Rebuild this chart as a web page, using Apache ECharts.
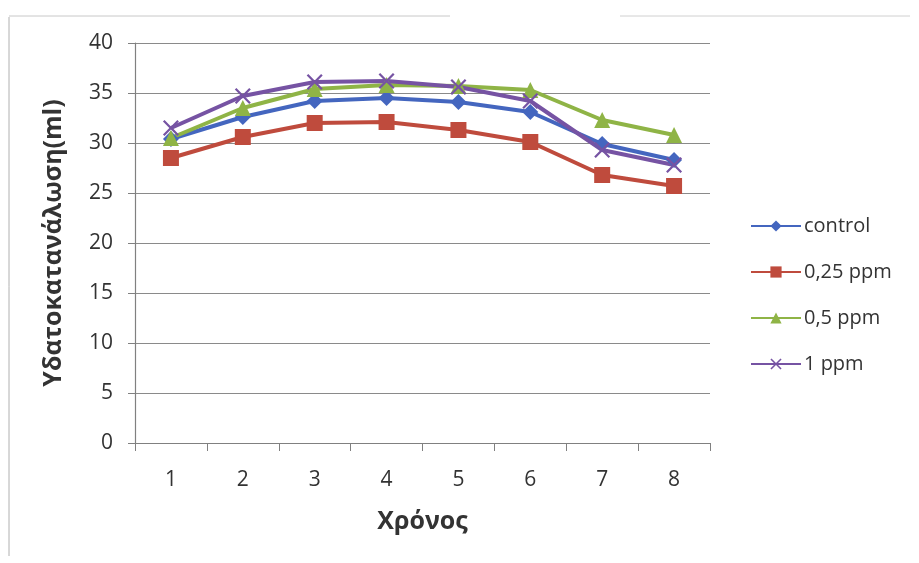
<!DOCTYPE html>
<html>
<head>
<meta charset="utf-8">
<script src="https://cdn.jsdelivr.net/npm/echarts@6/dist/echarts.min.js"></script>
<style>
  html, body { margin: 0; padding: 0; background: #fff; }
  #chart { width: 919px; height: 563px; }
</style>
</head>
<body>
<div id="chart"></div>
<script>
// Water consumption (ml) over time for each treatment
const categories = ['1', '2', '3', '4', '5', '6', '7', '8'];
const seriesNames = ['control', '0,25 ppm', '0,5 ppm', '1 ppm'];
const controlValues = [30.4, 32.6, 34.2, 34.5, 34.1, 33.1, 29.9, 28.3];
const ppm025Values = [28.5, 30.6, 32.0, 32.1, 31.3, 30.1, 26.8, 25.7];
const ppm05Values = [30.5, 33.5, 35.4, 35.8, 35.7, 35.3, 32.3, 30.8];
const ppm1Values = [31.5, 34.7, 36.1, 36.2, 35.6, 34.2, 29.3, 27.8];
const yTicks = { min: 0, max: 40, interval: 5 };

const xSymbol = 'path://M0,1 L1,0 L5,4 L9,0 L10,1 L6,5 L10,9 L9,10 L5,6 L1,10 L0,9 L4,5 Z';
const font = '"Open Sans", "Noto Sans", sans-serif';

function lineSeries(name, data, color, symbol, size) {
  return {
    name: name,
    type: 'line',
    data: data,
    symbol: symbol,
    symbolSize: size,
    showAllSymbol: true,
    lineStyle: { color: color, width: 4 },
    itemStyle: { color: color, borderWidth: 0 },
    emphasis: { disabled: true }
  };
}

const chart = echarts.init(document.getElementById('chart'));
chart.setOption({
  animation: false,
  backgroundColor: '#ffffff',
  textStyle: { fontFamily: font },
  grid: { left: 135, right: 209, top: 43, bottom: 120 },
  legend: {
    orient: 'vertical',
    left: 745,
    top: 210,
    itemGap: 24,
    itemWidth: 50,
    itemHeight: 14,
    textStyle: { fontSize: 20, lineHeight: 22, color: '#333', fontFamily: font, padding: [0, 0, 0, -2] },
    data: seriesNames
  },
  xAxis: {
    type: 'category',
    data: categories,
    name: 'Χρόνος',
    nameLocation: 'middle',
    nameGap: 66,
    nameTextStyle: { fontSize: 25, fontWeight: 'bold', color: '#333', fontFamily: font },
    axisLine: { lineStyle: { color: '#808080', width: 1.2 } },
    axisTick: { show: true, length: 8, lineStyle: { color: '#808080' } },
    axisLabel: { fontSize: 21, color: '#333', margin: 27 }
  },
  yAxis: {
    type: 'value',
    min: yTicks.min,
    max: yTicks.max,
    interval: yTicks.interval,
    name: 'Υδατοκατανάλωση(ml)',
    nameLocation: 'middle',
    nameGap: 69,
    nameRotate: 90,
    nameTextStyle: { fontSize: 25, fontWeight: 'bold', color: '#333', fontFamily: font },
    axisLine: { show: true, lineStyle: { color: '#808080', width: 1.2 } },
    axisTick: { show: true, length: 7, lineStyle: { color: '#808080' } },
    axisLabel: { fontSize: 21, color: '#333', margin: 22 },
    splitLine: { lineStyle: { color: '#8a8a8a', width: 1.2 } }
  },
  graphic: [
    { type: 'line', shape: { x1: 9, y1: 17, x2: 9, y2: 556 }, style: { stroke: '#b0b0b0', lineWidth: 1 } },
    { type: 'line', shape: { x1: 9, y1: 16, x2: 450, y2: 16 }, style: { stroke: '#c8c8c8', lineWidth: 1 } },
    { type: 'line', shape: { x1: 620, y1: 16, x2: 910, y2: 16 }, style: { stroke: '#d0d0d0', lineWidth: 1 } }
  ],
  series: [
    lineSeries(seriesNames[0], controlValues, '#4466bf', 'diamond', 16),
    lineSeries(seriesNames[1], ppm025Values, '#bf4b3d', 'rect', 16),
    lineSeries(seriesNames[2], ppm05Values, '#8fb446', 'triangle', 16),
    lineSeries(seriesNames[3], ppm1Values, '#7653a3', xSymbol, 16)
  ]
});
</script>
</body>
</html>
